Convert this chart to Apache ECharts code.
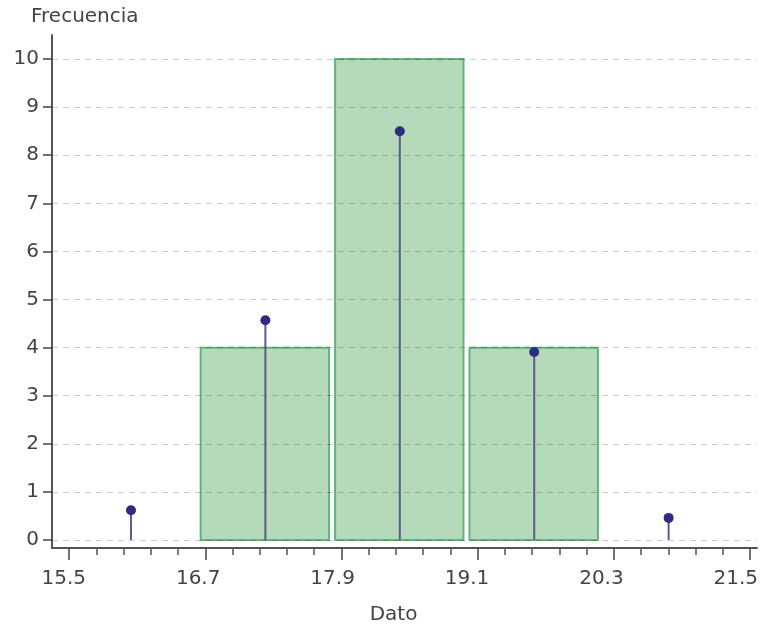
<!DOCTYPE html>
<html>
<head>
<meta charset="utf-8">
<script src="https://cdn.jsdelivr.net/npm/echarts@6/dist/echarts.min.js"></script>
<style>
  html, body { margin: 0; padding: 0; background: #fff; }
  #main { width: 763px; height: 630px; }
</style>
</head>
<body>
<div id="main"></div>
<script>
// histogram classes
const binStarts = [16.7, 17.9, 19.1]
const binEnds = [17.9, 19.1, 20.3]
const binCounts = [4, 10, 4]
// stems at class marks
const stemX = [16.1, 17.3, 18.5, 19.7, 20.9]
const stemY = [0.62, 4.57, 8.5, 3.91, 0.46]
// tick labels
const xTicks = [15.5, 16.7, 17.9, 19.1, 20.3, 21.5]
const yTicks = [0, 1, 2, 3, 4, 5, 6, 7, 8, 9, 10]

// minor ticks: 4 between each major
const xMinor = []
for (let i = 0; i < xTicks.length - 1; i++) {
  const step = (xTicks[i + 1] - xTicks[i]) / 5
  for (let k = 1; k < 5; k++) xMinor.push(+(xTicks[i] + step * k).toFixed(3))
}

const font = 'DejaVu Sans'
const textColor = '#444'
// the tick marks sit on a slightly wider scale than the labels and data
const tickRange = { min: 15.35, max: 21.56 }
const dataRange = { min: 15.395, max: 21.689 }

const chart = echarts.init(document.getElementById('main'))
chart.setOption({
  animation: false,
  title: {
    text: 'Frecuencia',
    left: 26,
    top: 2,
    textStyle: { fontFamily: font, fontSize: 20, fontWeight: 'normal', color: textColor },
  },
  grid: { left: 52, right: 6, top: 35, bottom: 82, outerBoundsMode: 'none' },
  xAxis: [
    {
      type: 'value',
      ...dataRange,
      name: 'Dato',
      nameLocation: 'middle',
      nameGap: 57,
      nameTextStyle: { fontFamily: font, fontSize: 20, color: textColor, padding: [0, 22, 0, 0] },
      axisLine: { show: false, onZero: false },
      axisTick: { show: false },
      axisLabel: { customValues: xTicks, margin: 21, fontFamily: font, fontSize: 20, color: textColor },
      splitLine: { show: false },
    },
    {
      type: 'value',
      ...tickRange,
      position: 'bottom',
      axisLine: { onZero: false, lineStyle: { color: '#555', width: 2 } },
      axisTick: { customValues: xTicks, length: 12, lineStyle: { color: '#444', width: 1.5 } },
      axisLabel: { show: false },
      splitLine: { show: false },
    },
    {
      type: 'value',
      ...tickRange,
      position: 'bottom',
      axisLine: { show: false, onZero: false },
      axisTick: { customValues: xMinor, length: 7, lineStyle: { color: '#555', width: 1.5 } },
      axisLabel: { show: false },
      splitLine: { show: false },
    },
  ],
  yAxis: {
    type: 'value',
    min: -0.166,
    max: 10.5,
    axisLine: { show: true, onZero: false, lineStyle: { color: '#555', width: 2 } },
    axisTick: { show: true, customValues: yTicks, length: 9, lineStyle: { color: '#444', width: 1.5 } },
    axisLabel: { customValues: yTicks, margin: 13, fontFamily: font, fontSize: 20, color: textColor },
    splitLine: { show: false },
  },
  series: [
    {
      type: 'custom',
      name: 'bins',
      xAxisIndex: 0,
      data: binStarts.map((s, i) => [s, binEnds[i], binCounts[i]]),
      renderItem(params, api) {
        const p0 = api.coord([api.value(0), 0])
        const p1 = api.coord([api.value(1), api.value(2)])
        return {
          type: 'rect',
          shape: { x: p0[0] + 2.5, y: p1[1], width: p1[0] - p0[0] - 6, height: p0[1] - p1[1] },
          style: { fill: '#b5dab9', stroke: '#5fb57a', lineWidth: 2 },
        }
      },
      markLine: {
        silent: true,
        symbol: ['none', 'none'],
        label: { show: false },
        lineStyle: { type: [6, 5], color: 'rgba(0,0,0,0.2)', width: 1 },
        data: yTicks.map(v => ({ yAxis: v })),
      },
    },
    {
      type: 'custom',
      name: 'stems',
      xAxisIndex: 0,
      data: stemX.map((x, i) => [x, stemY[i]]),
      z: 3,
      renderItem(params, api) {
        const base = api.coord([api.value(0), 0])
        const top = api.coord([api.value(0), api.value(1)])
        return {
          type: 'group',
          children: [
            {
              type: 'line',
              shape: { x1: base[0], y1: base[1], x2: top[0], y2: top[1] },
              style: { stroke: '#5b5a8c', lineWidth: 2 },
            },
            {
              type: 'circle',
              shape: { cx: top[0], cy: top[1], r: 5 },
              style: { fill: '#2e2a86' },
            },
          ],
        }
      },
    },
  ],
})
</script>
</body>
</html>
